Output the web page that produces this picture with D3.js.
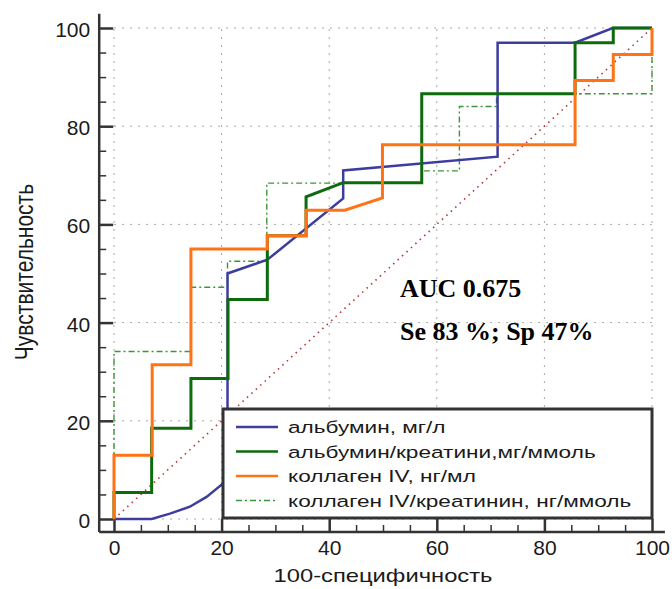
<!DOCTYPE html>
<html lang="ru">
<head>
	<meta charset="utf-8">
	<title>ROC</title>
	<style type="text/css">
		body { margin: 0; background: #fff; }
		.grid line { stroke: #a8a8a8; stroke-width: 1; stroke-dasharray: 2,6; }
		.axis path { display: none; }
		.axis line { stroke: #333; }
		.axis text { font-family: "Liberation Sans", Arial, sans-serif; font-size: 21px; fill: #1a1a1a; }
		.curve { fill: none; stroke-linejoin: miter; }
		.title { font-family: "Liberation Sans", Arial, sans-serif; fill: #1a1a1a; }
		.note { font-family: "Liberation Serif", "Times New Roman", serif; font-weight: bold; font-size: 26px; fill: #000; }
	</style>
	<script src="https://cdn.jsdelivr.net/npm/d3@7"></script>
</head>
<body>
<script>
	// ROC curves, values (x = 100-specificity, y = sensitivity)
	var albuminX = [0, 7, 10.4, 14.1, 17.2, 20, 21.1, 21.1, 28.5, 42.6, 42.6, 71.3, 71.3, 85.7, 92.7, 100];
	var albuminY = [0, 0, 1.1, 2.5, 4.5, 7, 8.5, 50, 52.8, 65.3, 71, 73.8, 97, 97, 100, 100];

	var albCreatX = [0, 0, 7, 7, 14.3, 14.3, 21.2, 21.2, 28.5, 28.5, 35.7, 35.7, 42.6, 57.2, 57.2, 85.7, 85.7, 92.8, 92.8, 100];
	var albCreatY = [0, 5.4, 5.4, 18.5, 18.5, 28.6, 28.6, 44.7, 44.7, 57.7, 57.7, 65.6, 68.5, 68.5, 86.6, 86.6, 97, 97, 100, 100];

	var collagenX = [0, 0, 7.1, 7.1, 14.3, 14.3, 28.5, 28.5, 35.7, 35.7, 42.9, 49.9, 49.9, 85.7, 85.7, 92.8, 92.8, 100, 100];
	var collagenY = [0, 13, 13, 31.4, 31.4, 55, 55, 57.7, 57.7, 62.9, 62.9, 65.4, 76.2, 76.2, 89.3, 89.3, 94.6, 94.6, 100];

	var collCreatX = [0, 0, 14.3, 14.3, 21.1, 21.1, 28.4, 28.4, 57.2, 57.2, 64.2, 64.2, 71.1, 71.1, 100, 100];
	var collCreatY = [0, 34.1, 34.1, 47.2, 47.2, 52.5, 52.5, 68.4, 68.4, 70.9, 70.9, 84, 84, 86.6, 86.6, 100];

	var diagX = [0, 100];
	var diagY = [0, 100];

	var seriesNames = ["альбумин, мг/л", "альбумин/креатини,мг/ммоль", "коллаген IV, нг/мл", "коллаген IV/креатинин, нг/ммоль"];
	var majorTicks = [0, 20, 40, 60, 80, 100];
	var minorTicks = [5, 10, 15, 25, 30, 35, 45, 50, 55, 65, 70, 75, 85, 90, 95];
	var notes = ["AUC 0.675", "Se 83 %; Sp 47%"];
	var xTitle = "100-специфичность";
	var yTitle = "Чувствительность";

	var width = 672, height = 589;

	var x = d3.scaleLinear().domain([0, 100]).range([114, 652]);
	var y = d3.scaleLinear().domain([0, 100]).range([519, 28]);

	var svg = d3.select("body").append("svg")
		.attr("width", width)
		.attr("height", height);

	// dotted grid
	var grid = svg.append("g").attr("class", "grid");
	grid.selectAll(".gv").data(majorTicks).enter().append("line")
		.attr("x1", function(d){ return x(d); }).attr("x2", function(d){ return x(d); })
		.attr("y1", y(0)).attr("y2", y(100));
	grid.selectAll(".gh").data(majorTicks).enter().append("line")
		.attr("y1", function(d){ return y(d); }).attr("y2", function(d){ return y(d); })
		.attr("x1", x(0)).attr("x2", x(100));

	// axes sit a little outside the data range
	var xAxisPos = y(-2.65), yAxisPos = x(-2.75);

	svg.append("line")
		.attr("x1", yAxisPos).attr("x2", yAxisPos)
		.attr("y1", y(102.9)).attr("y2", xAxisPos)
		.attr("stroke", "#333").attr("stroke-width", 2.5);
	svg.append("line")
		.attr("x1", yAxisPos).attr("x2", x(102.4))
		.attr("y1", xAxisPos).attr("y2", xAxisPos)
		.attr("stroke", "#333").attr("stroke-width", 2.5);

	svg.append("g")
		.attr("class", "y axis")
		.attr("transform", "translate(" + yAxisPos + ",0)")
		.call(d3.axisLeft(y).tickValues(minorTicks).tickSize(-7).tickFormat(""))
		.selectAll("line").attr("stroke-width", 1.5);
	svg.append("g")
		.attr("class", "y axis")
		.attr("transform", "translate(" + yAxisPos + ",0)")
		.call(d3.axisLeft(y).tickValues(majorTicks).tickSize(-14).tickPadding(9))
		.call(function(g){
			g.selectAll("line").attr("stroke-width", 2.5);
			g.selectAll("text").attr("dy", "0.55em").attr("y", -3);
		});

	svg.append("g")
		.attr("class", "x axis")
		.attr("transform", "translate(0," + xAxisPos + ")")
		.call(d3.axisBottom(x).tickValues(minorTicks).tickSize(-7).tickFormat(""))
		.selectAll("line").attr("stroke-width", 1.5);
	svg.append("g")
		.attr("class", "x axis")
		.attr("transform", "translate(0," + xAxisPos + ")")
		.call(d3.axisBottom(x).tickValues(majorTicks).tickSize(-13).tickPadding(8))
		.call(function(g){
			g.selectAll("line").attr("stroke-width", 2.5);
			g.selectAll("text").attr("y", 23).attr("dy", 0);
		});

	// axis titles (the original image is stretched sideways)
	svg.append("text")
		.attr("class", "title")
		.attr("text-anchor", "middle")
		.attr("font-size", 19)
		.attr("transform", "translate(" + x(50) + ",582) scale(1.25,1)")
		.text(xTitle);

	svg.append("text")
		.attr("class", "title")
		.attr("text-anchor", "middle")
		.attr("font-size", 21)
		.attr("transform", "translate(33,272) rotate(-90) scale(1,1.25)")
		.text(yTitle);

	// curves
	function pts(xs, ys){
		return xs.map(function(v, i){ return [v, ys[i]]; });
	}
	var line = d3.line()
		.x(function(d){ return x(d[0]); })
		.y(function(d){ return y(d[1]); });

	var styles = [
		{ color: "#3d3d9f", w: 2.5, dash: null },
		{ color: "#0d6b0d", w: 3, dash: null },
		{ color: "#ff7316", w: 3, dash: null },
		{ color: "#3a963a", w: 1.4, dash: "6,3,2,3" }
	];

	svg.append("path")
		.datum(pts(diagX, diagY))
		.attr("class", "curve")
		.attr("d", line)
		.attr("stroke", "#b03636")
		.attr("stroke-width", 1.6)
		.attr("stroke-dasharray", "1.5,4.5");

	var curves = [pts(collCreatX, collCreatY), pts(albuminX, albuminY), pts(albCreatX, albCreatY), pts(collagenX, collagenY)];
	var curveStyle = [styles[3], styles[0], styles[1], styles[2]];

	svg.selectAll(".roc").data(curves).enter().append("path")
		.attr("class", "curve roc")
		.attr("d", line)
		.attr("stroke", function(d, i){ return curveStyle[i].color; })
		.attr("stroke-width", function(d, i){ return curveStyle[i].w; })
		.attr("stroke-dasharray", function(d, i){ return curveStyle[i].dash; });

	// notes
	svg.selectAll(".note").data(notes).enter().append("text")
		.attr("class", "note")
		.attr("x", 400)
		.attr("y", function(d, i){ return 297 + i * 43; })
		.text(function(d){ return d; });

	// legend
	var legend = svg.append("g");
	legend.append("rect")
		.attr("x", 223).attr("y", 409)
		.attr("width", 429).attr("height", 109)
		.attr("fill", "#fff")
		.attr("stroke", "#333")
		.attr("stroke-width", 3);

	var rows = legend.selectAll(".row").data(seriesNames).enter().append("g")
		.attr("transform", function(d, i){ return "translate(0," + (427 + i * 24.5) + ")"; });
	rows.append("line")
		.attr("x1", 236).attr("x2", 278)
		.attr("stroke", function(d, i){ return styles[i].color; })
		.attr("stroke-width", function(d, i){ return i == 3 ? 1.4 : 2.5; })
		.attr("stroke-dasharray", function(d, i){ return styles[i].dash; });
	rows.append("text")
		.attr("class", "title")
		.attr("font-size", 17)
		.attr("transform", "translate(288,6) scale(1.33,1)")
		.text(function(d){ return d; });
</script>
</body>
</html>
